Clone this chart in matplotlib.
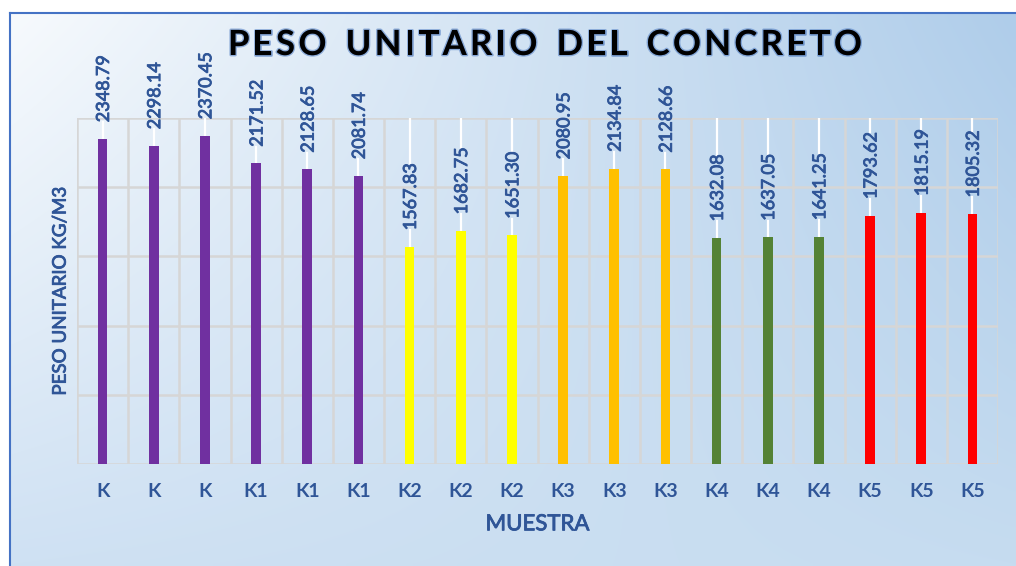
import numpy as np
import matplotlib
matplotlib.use("Agg")
import matplotlib.pyplot as plt
import matplotlib.patheffects as pe
from matplotlib.colors import to_rgb

# Data
categories = ["K", "K", "K", "K1", "K1", "K1", "K2", "K2", "K2",
              "K3", "K3", "K3", "K4", "K4", "K4", "K5", "K5", "K5"]
values = [2348.79, 2298.14, 2370.45, 2171.52, 2128.65, 2081.74,
          1567.83, 1682.75, 1651.30, 2080.95, 2134.84, 2128.66,
          1632.08, 1637.05, 1641.25, 1793.62, 1815.19, 1805.32]
group_colors = {"K": "#7030A0", "K1": "#7030A0", "K2": "#FFFF00",
                "K3": "#FFC000", "K4": "#548235", "K5": "#FF0000"}
title = "PESO UNITARIO DEL CONCRETO"

W, H = 1016, 566
fig = plt.figure(figsize=(W / 100, H / 100), dpi=100, facecolor="white")

# ---------------- background gradient ----------------
bg = fig.add_axes([10 / W, 0, 1 - 10 / W, 1 - 13 / H], zorder=-2)
tl, tr = np.array(to_rgb("#F7FAFD")), np.array(to_rgb("#AFCDEA"))
bl, br = np.array(to_rgb("#CFE1F3")), np.array(to_rgb("#C6DCF0"))
u = np.linspace(0, 1, 200)[None, :, None]
v = np.linspace(0, 1, 120)[:, None, None]
img = (1 - v) * ((1 - u) * tl + u * tr) + v * ((1 - u) * bl + u * br)
bg.imshow(img, aspect="auto", extent=(0, 1, 0, 1), interpolation="bilinear")
bg.set_xlim(0, 1)
bg.set_ylim(0, 1)
bg.axis("off")

# frame border
fig.add_artist(plt.Line2D([10 / W, 10 / W], [0, 1 - 13 / H], color="#4472C4", lw=1.5))
fig.add_artist(plt.Line2D([10 / W, 1], [1 - 13 / H, 1 - 13 / H], color="#4472C4", lw=1.5))

# ---------------- chart ----------------
ax = fig.add_axes([77 / W, 1 - 464 / H, (998 - 77) / W, (464 - 118) / H])
ax.patch.set_alpha(0)

x = np.arange(len(values))
colors = [group_colors[c] for c in categories]

ax.set_xlim(-0.5, len(values) - 0.5)
ax.set_ylim(0, 2500)

grid = "#D6D6D6"
for yv in np.arange(0, 2501, 500):
    ax.axhline(yv, color=grid, lw=1.8, zorder=0)
for xv in np.arange(-0.5, len(values), 1):
    ax.axvline(xv, color=grid, lw=1.8, zorder=0)

ax.bar(x, values, width=0.19, color=colors, zorder=3)

txt = "#2F5597"
glow = [pe.withStroke(linewidth=0.6, foreground=txt)]

labels = []
for xi, val in zip(x, values):
    t = ax.annotate("%.2f" % val, xy=(xi, val), xytext=(1, 12),
                    textcoords="offset points", rotation=90,
                    ha="center", va="bottom", fontsize=13,
                    family="Lato", color=txt, zorder=5, path_effects=glow)
    labels.append(t)

for s in ax.spines.values():
    s.set_visible(False)
ax.set_yticks([])
ax.set_xticks(x)
ax.set_xticklabels(categories, fontsize=14, fontweight="bold",
                   family="Lato", color=txt)
ax.tick_params(axis="x", length=0, pad=14)

ax.set_xlabel("MUESTRA", fontsize=16, family="Lato", color=txt, labelpad=10,
              path_effects=glow)
ax.set_ylabel("PESO UNITARIO KG/M3", fontsize=13.5, family="Lato",
              color=txt, labelpad=6, path_effects=glow)

# white leader lines around the data labels
fig.canvas.draw()
renderer = fig.canvas.get_renderer()
inv = ax.transData.inverted()
for xi, val, t in zip(x, values, labels):
    bb = t.get_window_extent(renderer)
    y0 = inv.transform((0, bb.y0))[1]
    y1 = inv.transform((0, bb.y1))[1]
    ax.plot([xi, xi], [val, y0], color="white", lw=1.6, zorder=2)
    if y1 < 2500:
        ax.plot([xi, xi], [y1, 2500], color="white", lw=1.6, zorder=2)

# ---------------- title with letter spacing ----------------
title_kw = dict(fontsize=25, fontweight="bold", family="Lato", color="black",
                va="center", ha="left",
                path_effects=[pe.Stroke(linewidth=2, foreground="#4A78C0", alpha=0.55),
                              pe.Normal()])
chars = []
widths = []
for ch in title:
    t = fig.text(0, 1 - 45 / H, ch if ch != " " else "I", **title_kw)
    w = t.get_window_extent(renderer).width
    if ch == " ":
        t.remove()
        w = w * 1.2
        t = None
    chars.append(t)
    widths.append(w)
x0, x1 = 228, 862
gap = (x1 - x0 - sum(widths)) / (len(title) - 1)
pos = x0
for t, w in zip(chars, widths):
    if t is not None:
        t.set_x(pos / W)
    pos += w + gap

plt.savefig("out.png", dpi=100)
